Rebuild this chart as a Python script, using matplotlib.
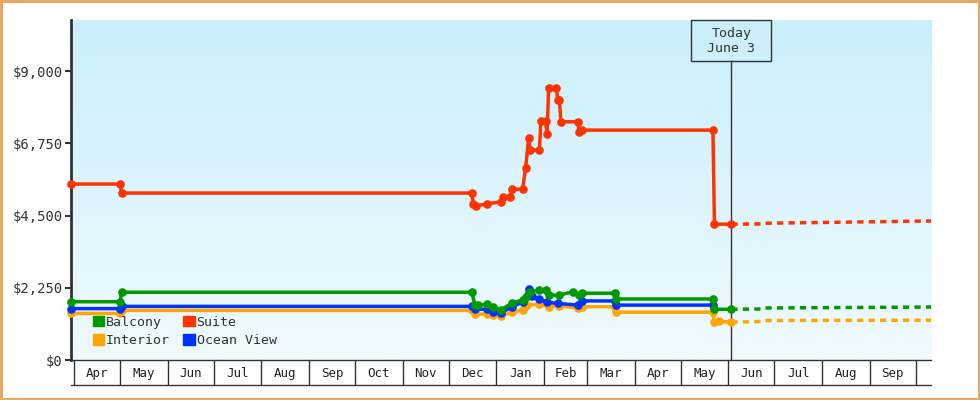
import numpy as np
import pandas as pd
import matplotlib as mpl
mpl.use('Agg')  # headless
import matplotlib.pyplot as plt
import matplotlib.dates as mdates
import matplotlib.transforms as mtransforms
from matplotlib.colors import LinearSegmentedColormap
from matplotlib.patches import Patch, Rectangle

plt.rcParams['font.family'] = ['DejaVu Sans Mono']

suite_dates = ['2018-03-30', '2018-05-01', '2018-05-02', '2018-12-16', '2018-12-17',
               '2018-12-19', '2018-12-26', '2019-01-04', '2019-01-05', '2019-01-10',
               '2019-01-11', '2019-01-18', '2019-01-20', '2019-01-22', '2019-01-23',
               '2019-01-29', '2019-01-30', '2019-02-02', '2019-02-03', '2019-02-04',
               '2019-02-09', '2019-02-10', '2019-02-11', '2019-02-12', '2019-02-23',
               '2019-02-24', '2019-02-26', '2019-05-22', '2019-05-23', '2019-06-03']
suite_prices = [5480, 5480, 5200, 5200, 4860,
                4810, 4860, 4930, 5090, 5070,
                5320, 5320, 5970, 6900, 6540,
                6540, 7440, 7440, 7030, 8460,
                8460, 8100, 8100, 7420, 7420,
                7090, 7160, 7160, 4230, 4230]

balcony_dates = ['2018-03-30', '2018-05-01', '2018-05-02', '2018-12-16', '2018-12-18',
                 '2018-12-20', '2018-12-26', '2018-12-30', '2019-01-04', '2019-01-11',
                 '2019-01-18', '2019-01-20', '2019-01-23', '2019-01-29', '2019-02-02',
                 '2019-02-04', '2019-02-11', '2019-02-20', '2019-02-24', '2019-02-26',
                 '2019-03-19', '2019-03-20', '2019-05-22', '2019-05-23', '2019-06-03']
balcony_prices = [1815, 1815, 2110, 2110, 1720,
                  1720, 1730, 1640, 1560, 1770,
                  1870, 1950, 2130, 2180, 2180,
                  2020, 2020, 2130, 2020, 2080,
                  2080, 1900, 1900, 1580, 1580]

ocean_dates = ['2018-03-30', '2018-05-01', '2018-05-02', '2018-12-16', '2018-12-18',
               '2018-12-26', '2018-12-30', '2019-01-04', '2019-01-11', '2019-01-18',
               '2019-01-22', '2019-01-24', '2019-01-29', '2019-02-03', '2019-02-10',
               '2019-02-23', '2019-02-26', '2019-03-19', '2019-03-20', '2019-05-22']
ocean_prices = [1600, 1600, 1670, 1670, 1580,
                1580, 1490, 1460, 1660, 1800,
                2200, 2000, 1900, 1800, 1760,
                1710, 1840, 1840, 1710, 1710]

interior_dates = ['2018-03-30', '2018-05-01', '2018-05-02', '2018-12-16', '2018-12-18',
                  '2018-12-26', '2018-12-30', '2019-01-04', '2019-01-11', '2019-01-18',
                  '2019-01-21', '2019-01-29', '2019-02-04', '2019-02-11', '2019-02-23',
                  '2019-02-26', '2019-03-19', '2019-03-20', '2019-05-22', '2019-05-23',
                  '2019-05-26', '2019-06-03']
interior_prices = [1450, 1450, 1545, 1545, 1430,
                   1430, 1400, 1370, 1480, 1560,
                   1710, 1740, 1660, 1690, 1610,
                   1660, 1660, 1490, 1490, 1180,
                   1200, 1180]

# forecasts after today (dotted)
fc_dates = ['2019-06-03', '2019-06-24', '2019-06-25', '2019-10-11']
suite_fc = [4230, 4240, 4260, 4330]
balcony_fc = [1580, 1590, 1620, 1650]
interior_fc = [1180, 1200, 1230, 1240]

yticks = [0, 2250, 4500, 6750, 9000]
ytick_labels = ['$0', '$2,250', '$4,500', '$6,750', '$9,000']

today = pd.Timestamp('2019-06-03')
xmin, xmax = pd.Timestamp('2018-03-30'), pd.Timestamp('2019-10-11')

RED, GREEN, BLUE, ORANGE = '#ff3300', '#009900', '#0033ff', '#ffa500'
INK = '#333333'

fig = plt.figure(figsize=(9.8, 4), dpi=100)
fig.patch.set_edgecolor('#e9a964')
fig.patch.set_linewidth(2.5)
ax = fig.add_axes([71/980, 40/400, 860/980, 340/400])
axm = fig.add_axes([71/980, 15/400, 860/980, 25/400], sharex=ax)

# light-blue gradient background
cmap = LinearSegmentedColormap.from_list('bg', ['#f0faff', '#caeffc'])
grad = np.linspace(0, 1, 256).reshape(-1, 1)
ax.imshow(grad, extent=[0, 1, 0, 1], transform=ax.transAxes, origin='lower',
          aspect='auto', cmap=cmap, zorder=0)

lw, ms = 2.5, 6.2
for d, v, c in [(interior_dates, interior_prices, ORANGE),
                (ocean_dates, ocean_prices, BLUE),
                (balcony_dates, balcony_prices, GREEN),
                (suite_dates, suite_prices, RED)]:
    ax.plot(pd.to_datetime(d), v, color=c, lw=lw, marker='o', ms=ms, mew=0,
            clip_on=False, zorder=3)

for v, c in [(interior_fc, ORANGE), (balcony_fc, GREEN), (suite_fc, RED)]:
    ax.plot(pd.to_datetime(fc_dates), v, color=c, lw=lw, dashes=(1.8, 1.5),
            dash_capstyle='butt', zorder=2.5)

ax.set_xlim(xmin, xmax)
ax.set_ylim(0, 10590)

# today marker
x0, x1 = mdates.date2num(xmin), mdates.date2num(xmax)
xf = (mdates.date2num(today) - x0) / (x1 - x0)
box_h = 41/340
ax.axvline(today, ymin=0, ymax=1 - box_h, color=INK, lw=1, zorder=2)
ax.add_patch(Rectangle((xf - 40/860, 1 - box_h), 80/860, box_h, transform=ax.transAxes,
                       fill=False, ec=INK, lw=1, clip_on=False, zorder=4))
ax.text(xf, 1 - box_h/2, 'Today\nJune 3', transform=ax.transAxes, ha='center', va='center',
        fontsize=9.5, color=INK, linespacing=1.2, zorder=5)

ax.set_yticks(yticks)
ax.set_yticklabels(ytick_labels)
ax.tick_params(axis='y', length=4.3, width=1.5, color=INK, labelsize=10, labelcolor=INK, pad=1.5)
ax.tick_params(axis='x', which='both', bottom=False, labelbottom=False)
for s in ['top', 'right']:
    ax.spines[s].set_visible(False)
ax.spines['left'].set_linewidth(2)
ax.spines['left'].set_color(INK)
ax.spines['bottom'].set_linewidth(1)
ax.spines['bottom'].set_color(INK)

handles = [Patch(color=GREEN, label='Balcony'), Patch(color=ORANGE, label='Interior'),
           Patch(color=RED, label='Suite'), Patch(color=BLUE, label='Ocean View')]
leg = ax.legend(handles=handles, ncol=2, loc='lower left', bbox_to_anchor=(22/860, 13/340),
                frameon=False, fontsize=9.5, handlelength=0.85, handleheight=0.85,
                handletextpad=0.15, columnspacing=1.0, labelspacing=0.4,
                borderpad=0, borderaxespad=0)
for t in leg.get_texts():
    t.set_color(INK)

# month boxes under the plot
month_starts = pd.date_range('2018-04-01', '2019-10-01', freq='MS')
for m in month_starts:
    axm.axvline(m, color=INK, lw=1)
trans = mtransforms.blended_transform_factory(axm.transData, axm.transAxes)
for a, b in zip(month_starts[:-1], month_starts[1:]):
    axm.text(a + (b - a) / 2, 0.45, a.strftime('%b'), transform=trans, ha='center', va='center',
             fontsize=9, color='#222222')
axm.set_facecolor('none')
axm.set_yticks([])
axm.tick_params(axis='x', which='both', bottom=False, labelbottom=False)
for s in ['top', 'left', 'right']:
    axm.spines[s].set_visible(False)
axm.spines['bottom'].set_color(INK)
axm.spines['bottom'].set_linewidth(1)
ax.set_xlim(xmin, xmax)

fig.savefig('out.png', dpi=100, facecolor='white', edgecolor=fig.get_edgecolor())
